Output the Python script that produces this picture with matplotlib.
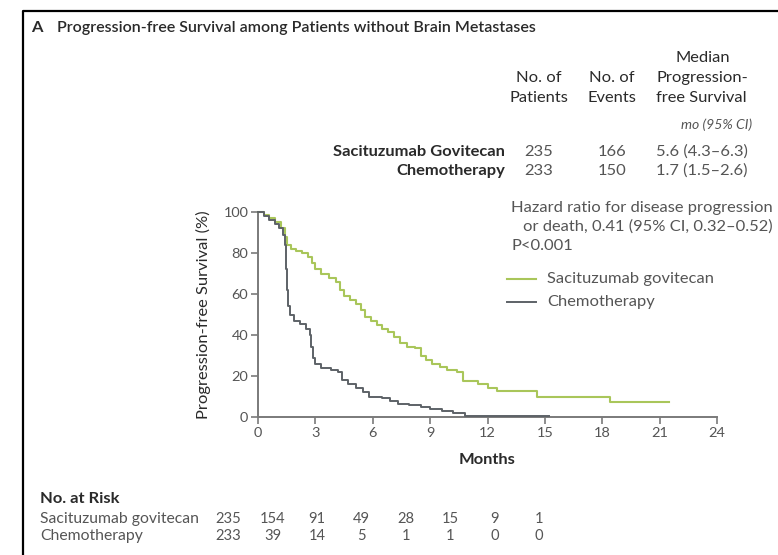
import matplotlib
matplotlib.use("Agg")
import matplotlib.pyplot as plt
from matplotlib.lines import Line2D
import matplotlib.transforms as mtransforms

plt.rcParams['font.family'] = ['Lato', 'DejaVu Sans']

# ---- data ----
sg_t = [0, 0.3, 0.6, 0.9, 1.2, 1.4, 1.5, 1.7, 2.0, 2.3, 2.6, 2.8, 3.0, 3.3, 3.7, 4.1, 4.3, 4.5,
        4.8, 5.1, 5.4, 5.6, 5.9, 6.2, 6.5, 6.8, 7.1, 7.4, 7.8, 8.2, 8.5, 8.8, 9.1, 9.5, 9.9,
        10.4, 10.7, 11.5, 12.0, 12.5, 14.6, 18.4, 21.5]
sg_s = [100, 98.5, 97, 95, 92, 88, 84, 82, 81, 80, 78, 75, 72, 70, 68, 66, 62, 59,
        57, 55, 52, 49, 47, 45, 43, 41.5, 39, 36, 34, 33.5, 30, 28, 26, 24.5, 23,
        22, 17.5, 16, 14, 12.5, 10, 7.5, 7.5]

ch_t = [0, 0.3, 0.6, 0.9, 1.1, 1.3, 1.4, 1.45, 1.5, 1.55, 1.65, 1.9, 2.2, 2.5, 2.7, 2.75, 2.85,
        3.0, 3.3, 3.8, 4.2, 4.4, 4.7, 5.1, 5.5, 5.8, 6.5, 6.9, 7.3, 7.9, 8.5, 9.0, 9.6, 10.2,
        10.8, 15.2]
ch_s = [100, 98, 96, 94, 92, 89, 84, 72, 62, 54, 50, 47, 45.5, 43, 40, 34, 29,
        26, 24, 23, 22, 18, 16, 14, 12, 10, 9.5, 8, 6.5, 6, 5, 4, 3, 2,
        0.6, 0.6]

x_ticks = [0, 3, 6, 9, 12, 15, 18, 21, 24]
y_ticks = [0, 20, 40, 60, 80, 100]

risk_months = [0, 3, 6, 9, 12, 15, 18, 21]
risk_sg = [235, 154, 91, 49, 28, 15, 9, 1]
risk_ch = [233, 39, 14, 5, 1, 1, 0, 0]

groups = ["Sacituzumab Govitecan", "Chemotherapy"]
n_patients = [235, 233]
n_events = [166, 150]
median_pfs = ["5.6 (4.3\u20136.3)", "1.7 (1.5\u20132.6)"]
legend_labels = ["Sacituzumab govitecan", "Chemotherapy"]

GREEN = '#a9c65a'
GRAY = '#5d6267'
DARK = '#2a2a2a'
TXT = '#555555'
AX = '#7a7a7a'

W, H = 778, 555
fig = plt.figure(figsize=(W / 100, H / 100), dpi=100)
fig.patch.set_facecolor('white')
renderer = fig.canvas.get_renderer()

def fx(px):
    return px / W

def fy(py):
    return 1 - py / H

def width_px(s, size, **kw):
    t = fig.text(0, 0, s, fontsize=size, **kw)
    w = t.get_window_extent(renderer=renderer).width
    t.remove()
    return w

# body font size fitted so the legend label spans ~166 px as in the reference
FS = 10 * 166 / width_px(legend_labels[0], 10)
FS_TICK = FS * 0.88

# frame lines (left and top)
fig.add_artist(Line2D([fx(23), fx(23), fx(778)], [fy(555), fy(11), fy(11)],
                      color='black', lw=1.6, transform=fig.transFigure))

# main axes
ax = fig.add_axes([fx(258), fy(417), fx(717) - fx(258), fy(212) - fy(417)])
ax.step(sg_t, sg_s, where='post', color=GREEN, lw=1.5, clip_on=False, zorder=3)
ax.step(ch_t, ch_s, where='post', color=GRAY, lw=1.4, clip_on=False, zorder=4)
ax.set_xlim(0, 24)
ax.set_ylim(0, 100)
ax.set_xticks(x_ticks)
ax.set_yticks(y_ticks)
for s in ['top', 'right']:
    ax.spines[s].set_visible(False)
for s in ['left', 'bottom']:
    ax.spines[s].set_color(AX)
    ax.spines[s].set_linewidth(1.4)
ax.tick_params(direction='out', length=5, width=1.2, color=AX, labelsize=FS_TICK,
               labelcolor=TXT, pad=2)
ax.set_ylabel("Progression-free Survival (%)", fontsize=FS, color=DARK, labelpad=9)
ax.set_xlabel("Months", fontsize=FS, color=DARK, fontweight='bold', labelpad=10)
ax.patch.set_alpha(0)

# title
fig.text(fx(31), fy(28), "A", fontsize=FS, fontweight='bold', color=DARK, va='center')
fig.text(fx(57), fy(28), "Progression-free Survival among Patients without Brain Metastases",
         fontsize=FS * 0.97, fontweight='semibold', color=DARK, va='center')

# header table
c1, c2, c3, c3l = 539, 612, 703, 656
fig.text(fx(c3), fy(58), "Median", fontsize=FS, ha='center', va='center', color=DARK)
fig.text(fx(c1), fy(78), "No. of", fontsize=FS, ha='center', va='center', color=DARK)
fig.text(fx(c1), fy(98), "Patients", fontsize=FS, ha='center', va='center', color=DARK)
fig.text(fx(c2), fy(78), "No. of", fontsize=FS, ha='center', va='center', color=DARK)
fig.text(fx(c2), fy(98), "Events", fontsize=FS, ha='center', va='center', color=DARK)
fig.text(fx(c3l), fy(78), "Progression-", fontsize=FS, ha='left', va='center', color=DARK)
fig.text(fx(c3l), fy(98), "free Survival", fontsize=FS, ha='left', va='center', color=DARK)
fig.text(fx(752), fy(125), "mo (95% CI)", fontsize=FS * 0.85, ha='right', va='center',
         style='italic', color=TXT)
for i, g in enumerate(groups):
    yy = 152 + 19 * i
    fig.text(fx(505), fy(yy), g, fontsize=FS, fontweight='bold', ha='right', va='center',
             color=DARK)
    fig.text(fx(c1), fy(yy), str(n_patients[i]), fontsize=FS, ha='center', va='center',
             color=TXT)
    fig.text(fx(c2), fy(yy), str(n_events[i]), fontsize=FS, ha='center', va='center',
             color=TXT)
    fig.text(fx(c3l), fy(yy), median_pfs[i], fontsize=FS, ha='left', va='center',
             color=TXT)

# hazard text
hz1 = fig.text(fx(773), fy(208), "Hazard ratio for disease progression", fontsize=FS,
               ha='right', va='center', color=TXT)
fig.text(fx(773), fy(227), "or death, 0.41 (95% CI, 0.32\u20130.52)", fontsize=FS,
         ha='right', va='center', color=TXT)
hz_left = hz1.get_window_extent(renderer=renderer).x0 / W
fig.text(hz_left, fy(246), "P<0.001", fontsize=FS, va='center', color=TXT)

# legend
for i, (lab, col) in enumerate(zip(legend_labels, [GREEN, GRAY])):
    yy = 279 + 23 * i
    fig.add_artist(Line2D([fx(507), fx(536)], [fy(yy), fy(yy)], color=col,
                          lw=1.5 if i == 0 else 1.4, transform=fig.transFigure))
    fig.text(fx(547), fy(yy), lab, fontsize=FS, va='center', color=TXT)

# at-risk table: own axes mapping months to compressed positions
rax = fig.add_axes([fx(228), fy(548), fx(539) - fx(228), fy(490) - fy(548)])
rax.set_xlim(0, 21)
rax.set_ylim(0, 1)
rax.axis('off')
fig.text(fx(40), fy(499), "No. at Risk", fontsize=FS, fontweight='bold', va='center',
         color=DARK)
fig.text(fx(40), fy(519), "Sacituzumab govitecan", fontsize=FS * 0.96, va='center', color=TXT)
fig.text(fx(40), fy(536), "Chemotherapy", fontsize=FS * 0.96, va='center', color=TXT)
tr = mtransforms.blended_transform_factory(rax.transData, fig.transFigure)
for m, a, b in zip(risk_months, risk_sg, risk_ch):
    rax.text(m, fy(519), str(a), transform=tr, fontsize=FS * 0.9, ha='center', va='center',
             color=TXT)
    rax.text(m, fy(536), str(b), transform=tr, fontsize=FS * 0.9, ha='center', va='center',
             color=TXT)

fig.savefig("out.png", dpi=100)
